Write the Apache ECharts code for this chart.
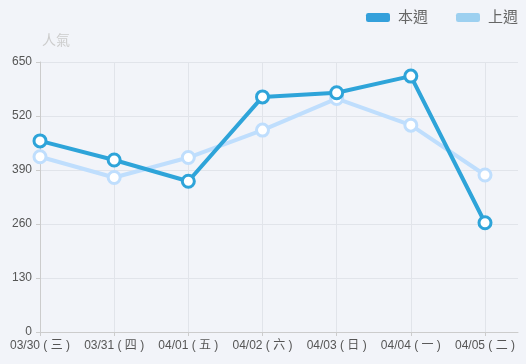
<!DOCTYPE html>
<html><head><meta charset="utf-8">
<script src="https://cdn.jsdelivr.net/npm/echarts@6/dist/echarts.min.js"></script>
<style>html,body{margin:0;padding:0;background:#f2f4f9;}#c{width:526px;height:364px;}</style>
</head><body><div id="c"></div>
<script>
const categories = ['03/30 ( 三 )','03/31 ( 四 )','04/01 ( 五 )','04/02 ( 六 )','04/03 ( 日 )','04/04 ( 一 )','04/05 ( 二 )'];
const thisWeek = [460, 414, 363, 566, 576, 616, 263];
const lastWeek = [422, 372, 420, 486, 562, 498, 378];
const yTicks = [0, 130, 260, 390, 520, 650];

const chart = echarts.init(document.getElementById('c'));
const font = "'Liberation Sans', 'Noto Sans CJK TC', sans-serif";
const yMin = yTicks[0], yMax = yTicks[yTicks.length - 1], yStep = yTicks[1] - yTicks[0];
chart.setOption({
  backgroundColor: '#f2f4f9',
  textStyle: {fontFamily: font},
  legend: {
    right: 3, top: 5, itemWidth: 24, itemHeight: 9, itemGap: 28,
    icon: 'roundRect',
    textStyle: {color: '#666', fontSize: 15, fontFamily: font, padding: [0, 0, 0, 3]},
    data: [
      {name: '本週', itemStyle: {color: '#34a0db', borderWidth: 0}},
      {name: '上週', itemStyle: {color: '#9dd0f0', borderWidth: 0}}
    ]
  },
  grid: [
    {left: 40, right: 8, top: 62, bottom: 32},
    {left: 40, right: 41, top: 62, bottom: 32}
  ],
  xAxis: [
    {
      gridIndex: 0, type: 'category', boundaryGap: false, data: categories,
      axisLine: {show: true, lineStyle: {color: '#ccc'}},
      axisTick: {show: false}, axisLabel: {show: false}, splitLine: {show: false}
    },
    {
      gridIndex: 1, type: 'category', boundaryGap: false, data: categories,
      axisLine: {show: false},
      axisTick: {show: true, length: 4, lineStyle: {color: '#ccc'}},
      axisLabel: {color: '#555', fontSize: 12, margin: 8, interval: 0, fontFamily: font},
      splitLine: {show: true, lineStyle: {color: '#e1e4ea'}}
    }
  ],
  yAxis: [
    {
      gridIndex: 0, type: 'value', min: yMin, max: yMax, interval: yStep,
      axisLine: {show: false}, axisTick: {show: false}, axisLabel: {show: false},
      splitLine: {lineStyle: {color: '#e1e4ea'}}
    },
    {
      gridIndex: 1, type: 'value', min: yMin, max: yMax, interval: yStep,
      name: '人氣', nameTextStyle: {color: '#ccc', fontSize: 14, align: 'left', padding: [0, 0, 0, 2]},
      nameGap: 14,
      axisLine: {show: true, lineStyle: {color: '#ccc'}},
      axisTick: {show: true, length: 4, lineStyle: {color: '#ccc'}},
      axisLabel: {color: '#555', fontSize: 12, margin: 8},
      splitLine: {show: false}
    }
  ],
  series: [
    {
      name: '上週', type: 'line', xAxisIndex: 1, yAxisIndex: 1, data: lastWeek,
      symbol: 'circle', symbolSize: 12,
      lineStyle: {width: 4, color: '#bfdefd'},
      itemStyle: {color: '#fff', borderColor: '#bfdefd', borderWidth: 3},
      z: 2
    },
    {
      name: '本週', type: 'line', xAxisIndex: 1, yAxisIndex: 1, data: thisWeek,
      symbol: 'circle', symbolSize: 12,
      lineStyle: {width: 4, color: '#2ea4d9'},
      itemStyle: {color: '#fff', borderColor: '#2ea4d9', borderWidth: 3},
      z: 3
    }
  ]
});
</script></body></html>
